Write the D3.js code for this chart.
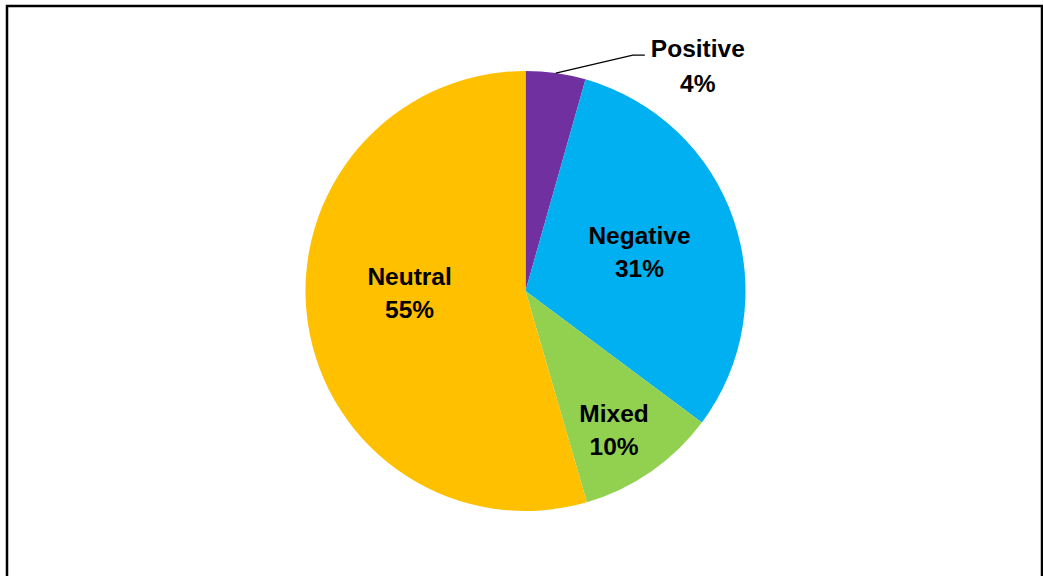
<!DOCTYPE html>
<html><head><meta charset="utf-8">
<script src="https://cdn.jsdelivr.net/npm/d3@7"></script>
<style>html,body{margin:0;padding:0;background:#fff;}svg{display:block;}</style>
</head><body>
<svg id="chart" width="1043" height="576"></svg>
<script>
// Data
const categories = ["Positive", "Negative", "Mixed", "Neutral"];
const values = [4.4, 30.8, 10.3, 54.5];
const colors = ["#7030A0", "#00B0F0", "#92D050", "#FFC000"];

const W = 1043, H = 576;
const cx = 525.5, cy = 291, R = 220;
const svg = d3.select("#chart");

// frame
svg.append("rect").attr("x", 7).attr("y", 6).attr("width", 1035).attr("height", 590)
  .attr("fill", "none").attr("stroke", "#000").attr("stroke-width", 2.5);

const total = d3.sum(values);
const pie = d3.pie().sort(null).value(d => d.v);
const data = categories.map((c, i) => ({ c, v: values[i], col: colors[i] }));
const arcs = pie(data);
const arc = d3.arc().innerRadius(0).outerRadius(R);

const g = svg.append("g").attr("transform", `translate(${cx},${cy})`);
g.selectAll("path").data(arcs).enter().append("path")
  .attr("d", arc).attr("fill", d => d.data.col);

// label layout: polar placement (fraction of radius, angle in degrees or null = mid-angle)
const labelLayout = {
  Negative: { r: 0.547, a: null },
  Mixed: { r: 0.749, a: 147.5 },
  Neutral: { r: 0.527, a: 269 }
};
const fmt = v => Math.round(v / total * 100) + "%";
const font = "'Liberation Sans', Arial, sans-serif";
const fs = 24.5;
const lineGap = 33;

arcs.forEach(d => {
  const mid = (d.startAngle + d.endAngle) / 2;
  if (labelLayout[d.data.c]) {
    const L = labelLayout[d.data.c];
    const a = L.a !== null ? L.a * Math.PI / 180 : mid;
    const x = Math.sin(a) * R * L.r;
    const y = -Math.cos(a) * R * L.r;
    const t = g.append("text").attr("text-anchor", "middle")
      .attr("font-family", font).attr("font-weight", "bold").attr("font-size", fs).attr("fill", "#000");
    t.append("tspan").attr("x", x).attr("y", y - 8).text(d.data.c);
    t.append("tspan").attr("x", x).attr("y", y - 8 + lineGap).text(fmt(d.data.v));
  } else {
    // outside label with leader line
    const p0 = [Math.sin(mid) * R, -Math.cos(mid) * R];
    const p1 = [p0[0] + 77, p0[1] - 18];
    const p2 = [p1[0] + 12, p1[1]];
    g.append("polyline").attr("points", [p0, p1, p2].map(p => p.join(",")).join(" "))
      .attr("fill", "none").attr("stroke", "#000").attr("stroke-width", 1.3);
    const lx = p2[0] + 53;
    const t = g.append("text").attr("text-anchor", "middle")
      .attr("font-family", font).attr("font-weight", "bold").attr("font-size", fs).attr("fill", "#000");
    t.append("tspan").attr("x", lx).attr("y", p2[1] + 2).text(d.data.c);
    t.append("tspan").attr("x", lx).attr("y", p2[1] + 37).text(fmt(d.data.v));
  }
});
</script>
</body></html>
